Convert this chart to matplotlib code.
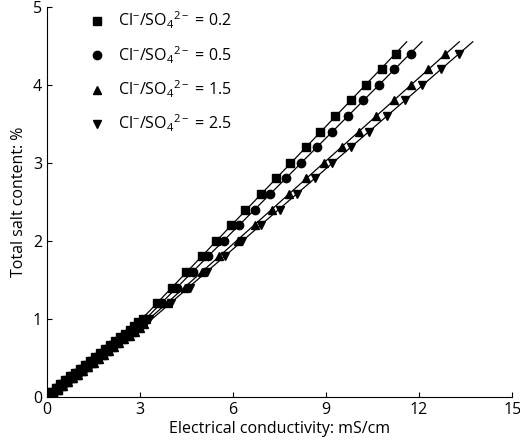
import numpy as np
import matplotlib
matplotlib.use('Agg')
import matplotlib.pyplot as plt

plt.rcParams['font.family'] = ['Open Sans', 'DejaVu Sans']
plt.rcParams['mathtext.fontset'] = 'custom'
plt.rcParams['mathtext.rm'] = 'Open Sans'
plt.rcParams['mathtext.it'] = 'Open Sans'

# total salt content (%)
y_low = [0, 0.05, 0.1, 0.15, 0.2, 0.25, 0.3, 0.35, 0.4, 0.45, 0.5, 0.55, 0.6, 0.65, 0.7, 0.75, 0.8, 0.85, 0.9, 0.95]
y_high = [1.0, 1.2, 1.4, 1.6, 1.8, 2.0, 2.2, 2.4, 2.6, 2.8, 3.0, 3.2, 3.4, 3.6, 3.8, 4.0, 4.2, 4.4]

# electrical conductivity (mS/cm)
x_low_02 = [0.05, 0.17, 0.32, 0.47, 0.62, 0.78, 0.94, 1.1, 1.26, 1.42, 1.58, 1.74, 1.9, 2.06, 2.22, 2.38, 2.54, 2.7, 2.85, 2.98]
x_low_05 = [0.05, 0.18, 0.33, 0.48, 0.64, 0.8, 0.96, 1.12, 1.28, 1.45, 1.61, 1.77, 1.93, 2.1, 2.26, 2.42, 2.58, 2.74, 2.9, 3.03]
x_low_15 = [0.06, 0.19, 0.34, 0.5, 0.66, 0.82, 0.98, 1.15, 1.31, 1.48, 1.64, 1.81, 1.97, 2.14, 2.31, 2.47, 2.64, 2.8, 2.96, 3.1]
x_low_25 = [0.06, 0.2, 0.35, 0.51, 0.67, 0.84, 1.0, 1.17, 1.34, 1.5, 1.67, 1.84, 2.01, 2.18, 2.35, 2.52, 2.69, 2.86, 3.02, 3.16]
x_high_02 = [3.1, 3.55, 4.05, 4.5, 5.0, 5.45, 5.95, 6.4, 6.9, 7.4, 7.85, 8.35, 8.8, 9.3, 9.8, 10.3, 10.8, 11.25]
x_high_05 = [3.15, 3.7, 4.2, 4.7, 5.2, 5.7, 6.2, 6.7, 7.2, 7.7, 8.2, 8.7, 9.2, 9.7, 10.2, 10.7, 11.2, 11.75]
x_high_15 = [3.2, 3.9, 4.45, 5.0, 5.55, 6.15, 6.7, 7.25, 7.8, 8.35, 8.95, 9.5, 10.05, 10.6, 11.2, 11.75, 12.3, 12.85]
x_high_25 = [3.3, 4.0, 4.6, 5.15, 5.75, 6.3, 6.9, 7.5, 8.05, 8.65, 9.2, 9.8, 10.4, 10.95, 11.55, 12.1, 12.7, 13.3]

ratios = ['0.2', '0.5', '1.5', '2.5']
markers = ['s', 'o', '^', 'v']
lows = [x_low_02, x_low_05, x_low_15, x_low_25]
highs = [x_high_02, x_high_05, x_high_15, x_high_25]

fig, ax = plt.subplots(figsize=(5.2, 4.46), dpi=100)
for r, m, xl, xh in zip(ratios, markers, lows, highs):
    ax.plot(xl, y_low, color='black', lw=0.9)
    ax.plot(xl, y_low, m, color='black', ms=7, ls='none')
    # fitted line for the high range
    k, b = np.polyfit(y_high, xh, 1)
    yy = np.array([0.95, 4.55])
    ax.plot(k * yy + b, yy, color='black', lw=0.9)
    ax.plot(xh, y_high, m, color='black', ms=6, ls='none',
            label=r'Cl$^{-}$/SO$_4$$^{2-}$ = ' + r)

ax.set_xlim(0, 15)
ax.set_ylim(0, 5)
ax.set_xticks([0, 3, 6, 9, 12, 15])
ax.set_yticks([0, 1, 2, 3, 4, 5])
ax.tick_params(direction='in', labelsize=11.5)
for s in ['top', 'right']:
    ax.spines[s].set_visible(False)
ax.set_xlabel('Electrical conductivity: mS/cm', fontsize=11.5, labelpad=2)
ax.set_ylabel('Total salt content: %', fontsize=11.5)
ax.legend(loc='upper left', frameon=False, fontsize=11.5, handletextpad=0.3,
          labelspacing=0.8, borderaxespad=0.3, bbox_to_anchor=(0.05, 1.02))
fig.subplots_adjust(left=0.09, right=0.985, bottom=0.11, top=0.985)
fig.savefig('out.png')
